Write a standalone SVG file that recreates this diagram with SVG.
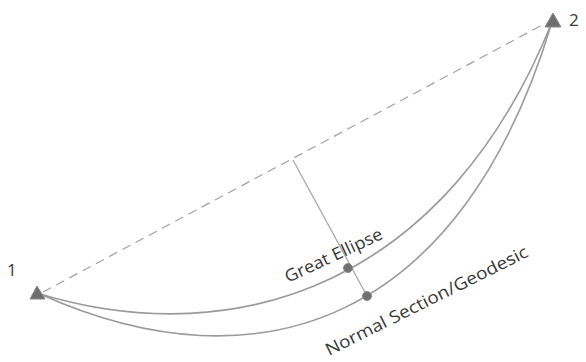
<svg xmlns="http://www.w3.org/2000/svg" width="586" height="362" viewBox="0 0 586 362">
<style>
.curve{fill:none;stroke:#9a9a9a;stroke-width:1.6}
.dash{fill:none;stroke:#a0a0a0;stroke-width:1.2;stroke-dasharray:9,6}
.perp{fill:none;stroke:#a8a8a8;stroke-width:1.3}
.tri{fill:#6e6e6e;stroke:#888;stroke-width:1}
.dot{fill:#707070;stroke:#8a8a8a;stroke-width:1}
.lbl{font-family:"Open Sans","Liberation Sans",sans-serif;font-size:17px;fill:#383838}
</style>
<rect width="586" height="362" fill="#fff"/>
<g id="connectors">
<path class="dash" d="M43,292 L546,23"/>
<path class="perp" d="M293,160 L367,296"/>
<path id="great-ellipse" class="curve" d="M40,294 C240,354 448,282 552,22"/>
<path id="normal-section" class="curve" d="M40,294 C260,393 462,322 552,22"/>
</g>
<g id="point-1">
<polygon class="tri" points="37,286 30,299 45,299"/>
<text class="lbl" x="7" y="276">1</text>
</g>
<g id="point-2">
<polygon class="tri" points="553,13 545,27 561,27"/>
<text class="lbl" x="569" y="26">2</text>
</g>
<g id="great-ellipse-point">
<circle class="dot" cx="348" cy="268" r="4.5"/>
</g>
<g id="normal-section-point">
<circle class="dot" cx="367" cy="296" r="4.5"/>
</g>
<g id="labels">
<text class="lbl" transform="translate(288,283) rotate(-25)" textLength="106" lengthAdjust="spacingAndGlyphs">Great Ellipse</text>
<text class="lbl" transform="translate(329,356) rotate(-26.5)" textLength="224" lengthAdjust="spacingAndGlyphs">Normal Section/Geodesic</text>
</g>
</svg>
